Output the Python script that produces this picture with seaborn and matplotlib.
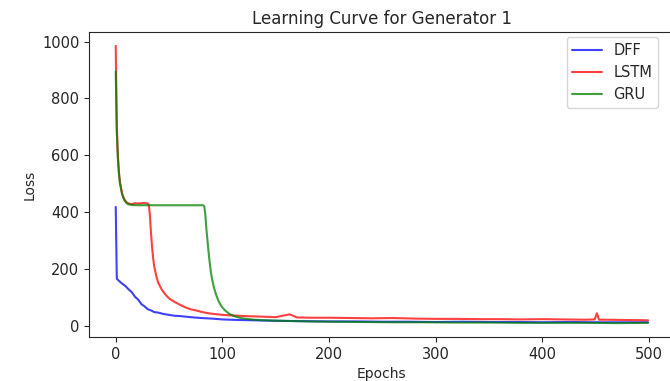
import seaborn as sns
import matplotlib.pyplot as plt

# values
dff_epochs = [0, 1, 3, 6, 9, 12, 15, 18, 21, 24, 27, 30, 33, 36, 40, 45, 50, 55, 60, 70, 80, 90, 100,
              115, 130, 150, 175, 200, 225, 250, 275, 300, 325, 350, 375, 400, 425, 450, 475, 499]
dff_loss = [418, 165, 158, 148, 140, 128, 118, 102, 92, 76, 68, 58, 54, 48, 46, 41, 38, 35, 34, 30, 27, 25, 22,
            20, 19, 17, 16, 15, 15, 14, 14, 13, 14, 13, 13, 12, 13, 12, 12, 12]

lstm_epochs = [0, 1, 2, 3, 4, 6, 8, 10, 12, 15, 18, 22, 26, 30, 31, 32, 33, 34, 35, 36, 38, 40, 43, 46,
               50, 55, 60, 65, 70, 75, 80, 85, 90, 100, 110, 120, 135, 150, 163, 170, 185, 200, 220,
               240, 260, 280, 300, 320, 340, 360, 380, 400, 420, 440, 449, 451, 453, 460, 480, 499]
lstm_loss = [985, 700, 600, 540, 505, 465, 445, 435, 430, 428, 431, 430, 432, 430, 425, 390, 330, 280,
             240, 210, 175, 150, 128, 112, 96, 84, 74, 65, 58, 54, 49, 45, 42, 38, 36, 34, 32, 30, 40,
             29, 28, 28, 27, 26, 27, 25, 24, 24, 23, 23, 22, 23, 22, 21, 22, 44, 21, 21, 20, 19]

gru_epochs = [0, 1, 2, 3, 4, 6, 8, 10, 12, 15, 20, 30, 40, 50, 60, 70, 80, 82, 83, 84, 85, 86, 87, 88,
              89, 90, 92, 94, 96, 98, 100, 103, 106, 110, 115, 120, 130, 140, 160, 180, 200, 230, 260,
              290, 320, 350, 380, 410, 440, 470, 499]
gru_loss = [895, 680, 590, 535, 500, 462, 442, 432, 427, 425, 424, 424, 424, 424, 424, 424, 424, 424,
            420, 390, 340, 300, 260, 225, 195, 170, 135, 110, 90, 75, 64, 52, 43, 35, 29, 25, 21, 19,
            17, 15, 14, 13, 12, 12, 11, 11, 10, 10, 10, 9, 10]

sns.set_style("ticks")

fig = plt.figure(figsize=(6.7, 3.81), dpi=100)
ax = fig.add_axes([0.133, 0.1155, 0.874, 0.8005])

sns.lineplot(x=dff_epochs, y=dff_loss, ax=ax, color="blue", alpha=0.75, linewidth=1.5, label="DFF")
sns.lineplot(x=lstm_epochs, y=lstm_loss, ax=ax, color="red", alpha=0.75, linewidth=1.5, label="LSTM")
sns.lineplot(x=gru_epochs, y=gru_loss, ax=ax, color="green", alpha=0.75, linewidth=1.5, label="GRU")

ax.set_title("Learning Curve for Generator 1", fontsize=12)
ax.set_xlabel("Epochs", fontsize=10)
ax.set_ylabel("Loss", fontsize=10)
ax.set_yticks([0, 200, 400, 600, 800, 1000])
ax.set_xticks([0, 100, 200, 300, 400, 500])
ax.tick_params(labelsize=10.5)

ax.legend(loc="upper right", bbox_to_anchor=(0.982, 0.903), bbox_transform=fig.transFigure,
          borderaxespad=0, fontsize=10.5)

fig.savefig("out.png", dpi=100)
